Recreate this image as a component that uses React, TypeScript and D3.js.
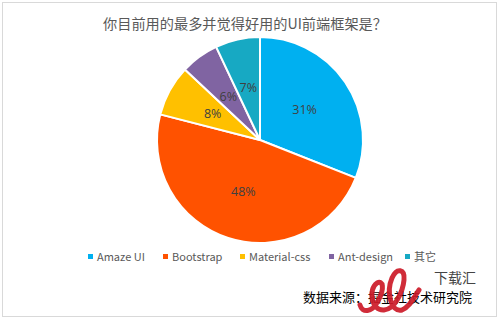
import React from "react";
import * as d3 from "d3";

const title = "你目前用的最多并觉得好用的UI前端框架是？";
const categories = ["Amaze UI", "Bootstrap", "Material-css", "Ant-design", "其它"];
const values = [31, 48, 8, 6, 7];
const colors = ["#00B0F0", "#FF5200", "#FFC000", "#8064A2", "#17A9C3"];
const legendX = [91, 166, 243, 332, 408];
const sourceText = "数据来源：掘金社技术研究院";
const logoText = "下载汇";

export default function App() {
  const W = 500, H = 320;
  const cx = 260, cy = 140, R = 103;
  const pie = d3.pie<number>().sort(null).value((d) => d)(values);
  const arc = d3.arc<d3.PieArcDatum<number>>().innerRadius(0).outerRadius(R);
  const labelArc = d3.arc<d3.PieArcDatum<number>>().innerRadius(54).outerRadius(54);
  const font = "'Noto Sans CJK SC', 'Noto Sans', sans-serif";
  const logoPath =
    "M 360 305 C 362 313, 372 313, 378 301 C 385 288, 383 280, 377 283 C 368 289, 371 311, 384 310 " +
    "C 396 309, 403 290, 404 280 C 405 269, 397 267, 392 278 C 386 292, 391 313, 402 310 C 410 307, 414 297, 419 290";
  return (
    <svg width={W} height={H} style={{ position: "absolute", left: 0, top: 0, background: "#fff" }}>
      <rect x={2.5} y={2.5} width={494} height={314} fill="#fff" stroke="#D9D9D9" strokeWidth={1} />
      <text x={245} y={29} textAnchor="middle" fontSize={14.2} fill="#595959" fontFamily={font}>{title}</text>
      <g transform={`translate(${cx},${cy})`}>
        {pie.map((p, i) => (
          <path key={i} d={arc(p) || ""} fill={colors[i]} stroke="#fff" strokeWidth={2} strokeLinejoin="round" />
        ))}
        {pie.map((p, i) => {
          const [x, y] = labelArc.centroid(p);
          return (
            <text key={i} x={x} y={y} dy="0.35em" textAnchor="middle" fontSize={12.5} fill="#404040" fontFamily="'Open Sans', sans-serif">
              {values[i] + "%"}
            </text>
          );
        })}
      </g>
      {categories.map((c, i) => (
        <g key={i}>
          <rect x={legendX[i] - 3} y={254} width={5} height={5} fill={colors[i]} />
          <text x={legendX[i] + 6} y={258} dy="0.3em" fontSize={11} fill="#595959" fontFamily={font}>{c}</text>
        </g>
      ))}
      <text x={303} y={302} fontSize={13} fill="#000" fontFamily={font}>{sourceText}</text>
      <path d={logoPath} fill="none" stroke="#CC1A28" strokeWidth={5} strokeLinecap="round" strokeLinejoin="round" opacity={0.92} />
      <text x={434} y={283} fontSize={14} fill="#444" fontFamily={font}>{logoText}</text>
    </svg>
  );
}
